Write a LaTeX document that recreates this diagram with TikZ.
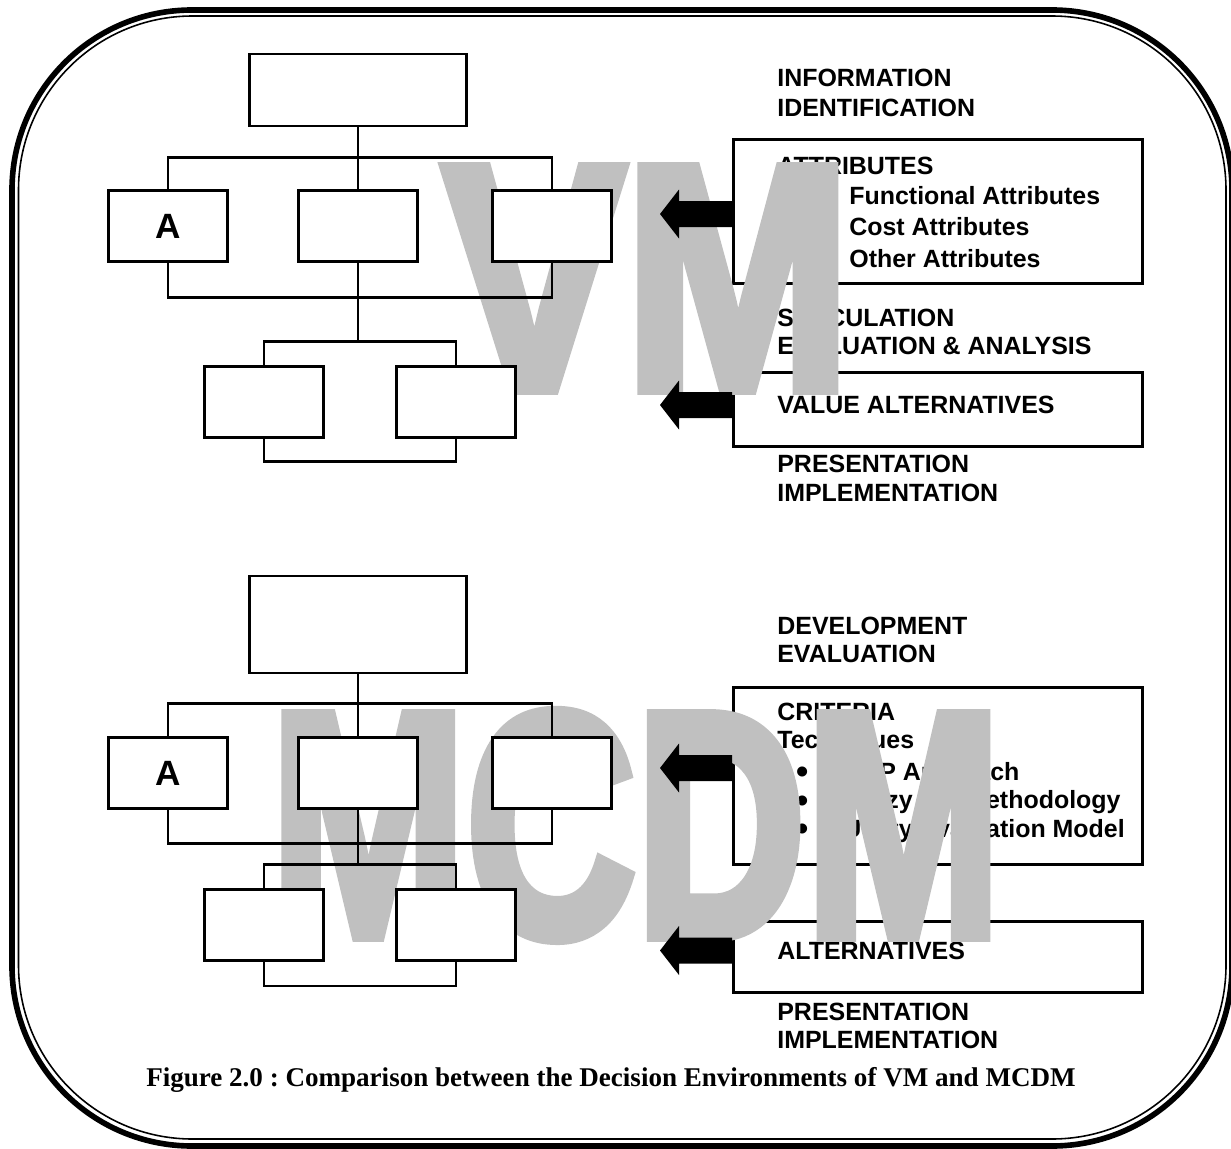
\documentclass[tikz,border=0pt]{standalone}
\usepackage{fontspec}
\setmainfont{Liberation Serif}
\setsansfont{Liberation Sans}
\newfontfamily\wmfont[BoldFeatures={FakeBold=4}]{Liberation Sans}
\usepackage{graphicx}
\definecolor{wmgrey}{HTML}{C0C0C0}
\frenchspacing

\begin{document}
\begin{tikzpicture}[x=0.02cm,y=-0.02cm,
	lbl/.style={font=\sffamily\bfseries\fontsize{14.2}{17}\selectfont,inner sep=0pt,anchor=base west},
	box/.style={draw,line width=1.2pt,fill=white,minimum width=2.38cm,minimum height=1.42cm,inner sep=0pt,
		font=\sffamily\bfseries\fontsize{20}{24}\selectfont},
	tbox/.style={draw,line width=1.7pt,anchor=north west,minimum width=8.18cm,inner sep=0pt},
	wmark/.style={text=wmgrey,line join=miter,miter limit=2,font=\wmfont\bfseries\fontsize{182}{182}\selectfont,
		inner sep=0pt,anchor=base west},
	link/.style={line width=1.2pt},
	barrow/.pic={\fill (0,-13) -- (-53,-13) -- (-53,-24.5) -- (-72,0) -- (-53,24.5) -- (-53,13) -- (0,13) -- cycle;}]
\useasboundingbox (0,0) rectangle (1231,1149);

% double frame
\draw[line width=3.2pt,rounded corners=3.6cm] (12,10) rectangle (1232,1146);
\draw[line width=0.9pt,rounded corners=3.48cm] (18.5,16) rectangle (1226,1139);

% VM side texts
\node[lbl] (info1) at (777,87) {INFORMATION};
\node[lbl] (info2) at (777,116) {IDENTIFICATION};
\node[tbox,minimum height=2.88cm] (attr) at (732,138) {};
\node[lbl] (attrhead) at (777,174) {ATTRIBUTES};
\foreach \t [count=\i] in {Functional Attributes,Cost Attributes,Other Attributes}
	\node[lbl] (attr\i) at (849,173.5+31.2*\i) {\t};
\node[lbl] (spec1) at (777,326) {SPECULATION};
\node[lbl] (spec2) at (777,354) {EVALUATION \& ANALYSIS};
\node[tbox,minimum height=1.48cm] (value) at (732,371) {};
\node[lbl] (valuetxt) at (777,413) {VALUE ALTERNATIVES};
\node[lbl] (pres1) at (777,472) {PRESENTATION};
\node[lbl] (pres2) at (777,501) {IMPLEMENTATION};

% MCDM side texts
\node[lbl] (dev1) at (777,634) {DEVELOPMENT};
\node[lbl] (dev2) at (777,662) {EVALUATION};
\node[tbox,minimum height=3.54cm] (crit) at (732,686) {};
\node[lbl] (crithead) at (777,720) {CRITERIA};
\node[lbl] (tech) at (777,748) {Techniques};
\foreach \t [count=\i] in {AHP Approach,Fuzzy Set Methodology,Utility Evaluation Model}{
	\node[lbl] (bul\i) at (796,751.5+28.5*\i) {\raisebox{-2.2pt}{\scalebox{1.4}{\textbullet}}};
	\node[lbl] (tech\i) at (843,751.5+28.5*\i) {\t};
}
\node[tbox,minimum height=1.42cm] (alt) at (732,920) {};
\node[lbl] (alttxt) at (777,959) {ALTERNATIVES};
\node[lbl] (pres3) at (777,1020) {PRESENTATION};
\node[lbl] (pres4) at (777,1048) {IMPLEMENTATION};

% watermarks
\node[wmark] (vm) at (443,388.5) {\scalebox{0.85}[1]{VM}};
\node[wmark] (mcdm) at (270,935.5) {\scalebox{0.735}[1]{MCDM}};

% VM tree
\node[box,minimum width=4.34cm,minimum height=1.44cm] (top1) at (358,90) {};
\node[box] (a1) at (168,226) {A};
\node[box] (b1) at (358,226) {};
\node[box] (c1) at (552,226) {};
\node[box] (d1) at (264,402) {};
\node[box] (e1) at (456,402) {};
\draw[link] (top1.south) -- (b1.north);
\draw[link] (a1.north) -- ++(0,-32) -| (c1.north);
\draw[link] (a1.south) -- ++(0,35) -| (c1.south);
\draw[link] (b1.south) -- ++(0,80);
\draw[link] (d1.north) -- ++(0,-24) -| (e1.north);
\draw[link] (d1.south) -- ++(0,23) -| (e1.south);

% MCDM tree
\node[box,minimum width=4.34cm,minimum height=1.94cm] (top2) at (358,624.5) {};
\node[box] (a2) at (168,773) {A};
\node[box] (b2) at (358,773) {};
\node[box] (c2) at (552,773) {};
\node[box] (d2) at (264,925) {};
\node[box] (e2) at (456,925) {};
\draw[link] (top2.south) -- (b2.north);
\draw[link] (a2.north) -- ++(0,-33) -| (c2.north);
\draw[link] (a2.south) -- ++(0,34) -| (c2.south);
\draw[link] (b2.south) -- ++(0,56);
\draw[link] (d2.north) -- ++(0,-24) -| (e2.north);
\draw[link] (d2.south) -- ++(0,24) -| (e2.south);

% block arrows
\pic at (attr.west |- 0,214) {barrow};
\pic at (value.west |- 0,405) {barrow};
\pic at (crit.west |- 0,768) {barrow};
\pic at (alt.west |- 0,950.5) {barrow};

\node[font=\bfseries\fontsize{15.4}{18}\selectfont,inner sep=0pt,anchor=base] (caption) at (611,1086)
	{Figure 2.0 : Comparison between the Decision Environments of VM and MCDM};
\end{tikzpicture}
\end{document}
